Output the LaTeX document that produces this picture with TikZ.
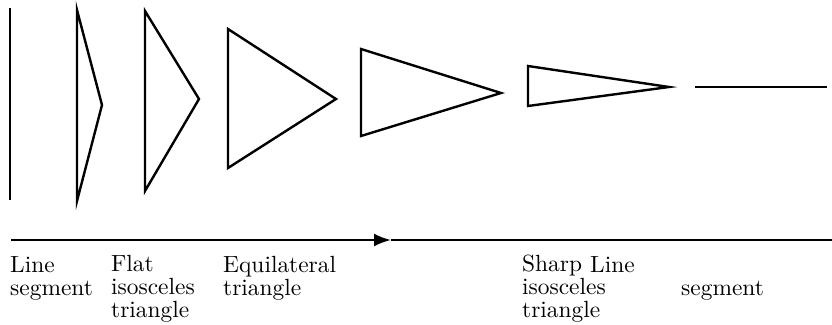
\documentclass[tikz,border=0pt]{standalone}
\usepackage{fontspec}
\usetikzlibrary{arrows.meta}
\newfontfamily\lblff{lmroman10-regular.otf}
\newcommand{\lblfont}{\lblff\fontsize{23.4pt}{22.7pt}\selectfont}
\tikzset{
  shapeline/.style={line width=2.4pt, line join=miter},
  lbl/.style={inner sep=0pt, anchor=base west, align=left, font=\lblfont}
}
\begin{document}
\begin{tikzpicture}[x=1pt, y=-1pt]
\useasboundingbox (0,0) rectangle (832,324);
% shapes
\draw[shapeline] (10,8) -- (10,200);
\draw[shapeline] (77,10) -- (77,201) -- (102,105) -- cycle;
\draw[shapeline] (145,11) -- (145,191) -- (199,99) -- cycle;
\draw[shapeline] (228,29) -- (228,168) -- (336,99) -- cycle;
\draw[shapeline] (361,49) -- (361,136) -- (501,93) -- cycle;
\draw[shapeline] (528,66) -- (528,106) -- (669,87) -- cycle;
\draw[shapeline] (695,87) -- (827,87);
% axis arrow
\coordinate (ax0) at (11,240);
\coordinate (axm) at (391,240);
\coordinate (ax1) at (832,240);
\draw[line width=2.4pt, -{Latex[length=17pt,width=13pt]}] (ax0) -- (axm);
\draw[line width=2.4pt] (axm) -- (ax1);
% labels (anchor at baseline of last line)
\node[lbl] (l1) at (10,295) {Line\\segment};
\node[lbl] (l2) at (111,317) {Flat\\isosceles\\triangle};
\node[lbl] (l3) at (223,295) {Equilateral\\triangle};
\node[lbl] (l4) at (522,317) {Sharp\\isosceles\\triangle};
\node[lbl] (l5) at (590,272) {Line};
\node[lbl] (l6) at (681,295) {segment};
\end{tikzpicture}
\end{document}
